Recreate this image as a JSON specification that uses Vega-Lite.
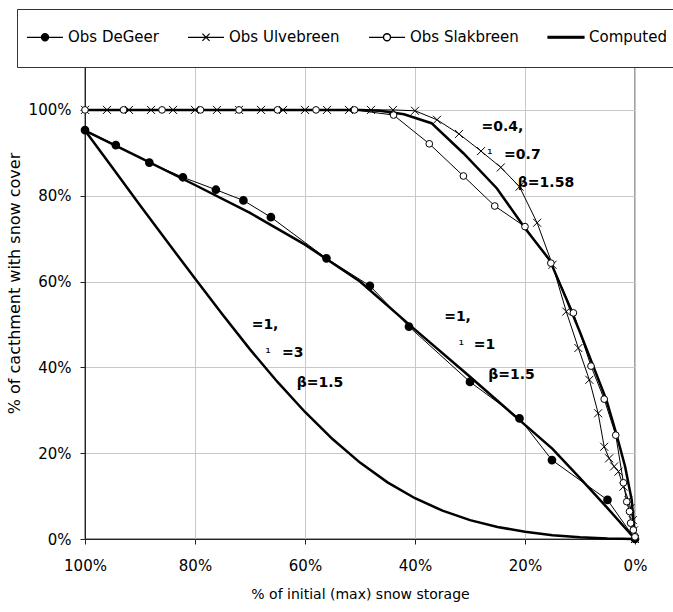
{
  "$schema": "https://vega.github.io/schema/vega-lite/v6.json",
  "width": 550,
  "height": 472,
  "autosize": "none",
  "padding": {"left": 85, "top": 67, "right": 38, "bottom": 73},
  "background": "white",
  "config": {
    "font": "DejaVu Sans",
    "view": {"stroke": "#a0a0a0", "strokeWidth": 2},
    "axis": {
      "domainColor": "#222",
      "tickColor": "#222",
      "gridColor": "#c8c8c8",
      "labelColor": "black",
      "titleColor": "black",
      "labelFontSize": 15,
      "titleFontSize": 15,
      "titleFontWeight": "normal",
      "tickSize": 5,
      "labelFlush": false,
      "labelFont": "DejaVu Sans",
      "titleFont": "DejaVu Sans"
    }
  },
  "datasets": {
    "obs": [
      {"series": "Obs DeGeer", "x": 1.0, "y": 0.953},
      {"series": "Obs DeGeer", "x": 0.944, "y": 0.918},
      {"series": "Obs DeGeer", "x": 0.883, "y": 0.877},
      {"series": "Obs DeGeer", "x": 0.822, "y": 0.843},
      {"series": "Obs DeGeer", "x": 0.762, "y": 0.814},
      {"series": "Obs DeGeer", "x": 0.712, "y": 0.789},
      {"series": "Obs DeGeer", "x": 0.662, "y": 0.75},
      {"series": "Obs DeGeer", "x": 0.561, "y": 0.654},
      {"series": "Obs DeGeer", "x": 0.482, "y": 0.59},
      {"series": "Obs DeGeer", "x": 0.411, "y": 0.495},
      {"series": "Obs DeGeer", "x": 0.3, "y": 0.366},
      {"series": "Obs DeGeer", "x": 0.21, "y": 0.281},
      {"series": "Obs DeGeer", "x": 0.151, "y": 0.184},
      {"series": "Obs DeGeer", "x": 0.05, "y": 0.091},
      {"series": "Obs DeGeer", "x": 0.0, "y": 0.0},
      {"series": "Obs Ulvebreen", "x": 1.0, "y": 1.0},
      {"series": "Obs Ulvebreen", "x": 0.96, "y": 1.0},
      {"series": "Obs Ulvebreen", "x": 0.92, "y": 1.0},
      {"series": "Obs Ulvebreen", "x": 0.88, "y": 1.0},
      {"series": "Obs Ulvebreen", "x": 0.84, "y": 1.0},
      {"series": "Obs Ulvebreen", "x": 0.8, "y": 1.0},
      {"series": "Obs Ulvebreen", "x": 0.76, "y": 1.0},
      {"series": "Obs Ulvebreen", "x": 0.72, "y": 1.0},
      {"series": "Obs Ulvebreen", "x": 0.68, "y": 1.0},
      {"series": "Obs Ulvebreen", "x": 0.64, "y": 1.0},
      {"series": "Obs Ulvebreen", "x": 0.6, "y": 1.0},
      {"series": "Obs Ulvebreen", "x": 0.56, "y": 1.0},
      {"series": "Obs Ulvebreen", "x": 0.52, "y": 1.0},
      {"series": "Obs Ulvebreen", "x": 0.48, "y": 1.0},
      {"series": "Obs Ulvebreen", "x": 0.44, "y": 1.0},
      {"series": "Obs Ulvebreen", "x": 0.4, "y": 0.998},
      {"series": "Obs Ulvebreen", "x": 0.36, "y": 0.977},
      {"series": "Obs Ulvebreen", "x": 0.32, "y": 0.944},
      {"series": "Obs Ulvebreen", "x": 0.28, "y": 0.904},
      {"series": "Obs Ulvebreen", "x": 0.244, "y": 0.866},
      {"series": "Obs Ulvebreen", "x": 0.21, "y": 0.821},
      {"series": "Obs Ulvebreen", "x": 0.178, "y": 0.737},
      {"series": "Obs Ulvebreen", "x": 0.15, "y": 0.639},
      {"series": "Obs Ulvebreen", "x": 0.125, "y": 0.53},
      {"series": "Obs Ulvebreen", "x": 0.103, "y": 0.445},
      {"series": "Obs Ulvebreen", "x": 0.083, "y": 0.371},
      {"series": "Obs Ulvebreen", "x": 0.067, "y": 0.293},
      {"series": "Obs Ulvebreen", "x": 0.056, "y": 0.215},
      {"series": "Obs Ulvebreen", "x": 0.047, "y": 0.188},
      {"series": "Obs Ulvebreen", "x": 0.038, "y": 0.169},
      {"series": "Obs Ulvebreen", "x": 0.03, "y": 0.157},
      {"series": "Obs Ulvebreen", "x": 0.021, "y": 0.122},
      {"series": "Obs Ulvebreen", "x": 0.012, "y": 0.091},
      {"series": "Obs Ulvebreen", "x": 0.008, "y": 0.072},
      {"series": "Obs Ulvebreen", "x": 0.004, "y": 0.044},
      {"series": "Obs Ulvebreen", "x": 0.002, "y": 0.02},
      {"series": "Obs Ulvebreen", "x": 0.0, "y": 0.0},
      {"series": "Obs Slakbreen", "x": 1.0, "y": 1.0},
      {"series": "Obs Slakbreen", "x": 0.93, "y": 1.0},
      {"series": "Obs Slakbreen", "x": 0.86, "y": 1.0},
      {"series": "Obs Slakbreen", "x": 0.79, "y": 1.0},
      {"series": "Obs Slakbreen", "x": 0.72, "y": 1.0},
      {"series": "Obs Slakbreen", "x": 0.65, "y": 1.0},
      {"series": "Obs Slakbreen", "x": 0.58, "y": 1.0},
      {"series": "Obs Slakbreen", "x": 0.51, "y": 1.0},
      {"series": "Obs Slakbreen", "x": 0.439, "y": 0.988},
      {"series": "Obs Slakbreen", "x": 0.374, "y": 0.921},
      {"series": "Obs Slakbreen", "x": 0.312, "y": 0.846},
      {"series": "Obs Slakbreen", "x": 0.255, "y": 0.776},
      {"series": "Obs Slakbreen", "x": 0.2, "y": 0.728},
      {"series": "Obs Slakbreen", "x": 0.153, "y": 0.643},
      {"series": "Obs Slakbreen", "x": 0.112, "y": 0.527},
      {"series": "Obs Slakbreen", "x": 0.08, "y": 0.403},
      {"series": "Obs Slakbreen", "x": 0.056, "y": 0.326},
      {"series": "Obs Slakbreen", "x": 0.035, "y": 0.242},
      {"series": "Obs Slakbreen", "x": 0.021, "y": 0.131},
      {"series": "Obs Slakbreen", "x": 0.015, "y": 0.087},
      {"series": "Obs Slakbreen", "x": 0.01, "y": 0.064},
      {"series": "Obs Slakbreen", "x": 0.008, "y": 0.037},
      {"series": "Obs Slakbreen", "x": 0.003, "y": 0.021},
      {"series": "Obs Slakbreen", "x": 0.0, "y": 0.005}
    ],
    "computed": [
      {"curve": "a1 g1 b1.5", "x": 1.0, "y": 0.952},
      {"curve": "a1 g1 b1.5", "x": 0.9, "y": 0.889},
      {"curve": "a1 g1 b1.5", "x": 0.8, "y": 0.825},
      {"curve": "a1 g1 b1.5", "x": 0.7, "y": 0.76},
      {"curve": "a1 g1 b1.5", "x": 0.6, "y": 0.686},
      {"curve": "a1 g1 b1.5", "x": 0.5, "y": 0.6},
      {"curve": "a1 g1 b1.5", "x": 0.4, "y": 0.488},
      {"curve": "a1 g1 b1.5", "x": 0.3, "y": 0.378},
      {"curve": "a1 g1 b1.5", "x": 0.2, "y": 0.266},
      {"curve": "a1 g1 b1.5", "x": 0.15, "y": 0.21},
      {"curve": "a1 g1 b1.5", "x": 0.1, "y": 0.142},
      {"curve": "a1 g1 b1.5", "x": 0.05, "y": 0.072},
      {"curve": "a1 g1 b1.5", "x": 0.0, "y": 0.0},
      {"curve": "a1 g3 b1.5", "x": 1.0, "y": 0.952},
      {"curve": "a1 g3 b1.5", "x": 0.95, "y": 0.865},
      {"curve": "a1 g3 b1.5", "x": 0.9, "y": 0.778},
      {"curve": "a1 g3 b1.5", "x": 0.85, "y": 0.692},
      {"curve": "a1 g3 b1.5", "x": 0.8, "y": 0.607},
      {"curve": "a1 g3 b1.5", "x": 0.75, "y": 0.523},
      {"curve": "a1 g3 b1.5", "x": 0.7, "y": 0.442},
      {"curve": "a1 g3 b1.5", "x": 0.65, "y": 0.366},
      {"curve": "a1 g3 b1.5", "x": 0.6, "y": 0.296},
      {"curve": "a1 g3 b1.5", "x": 0.55, "y": 0.233},
      {"curve": "a1 g3 b1.5", "x": 0.5, "y": 0.178},
      {"curve": "a1 g3 b1.5", "x": 0.45, "y": 0.132},
      {"curve": "a1 g3 b1.5", "x": 0.4, "y": 0.095},
      {"curve": "a1 g3 b1.5", "x": 0.35, "y": 0.066},
      {"curve": "a1 g3 b1.5", "x": 0.3, "y": 0.044},
      {"curve": "a1 g3 b1.5", "x": 0.25, "y": 0.028},
      {"curve": "a1 g3 b1.5", "x": 0.2, "y": 0.017},
      {"curve": "a1 g3 b1.5", "x": 0.15, "y": 0.009},
      {"curve": "a1 g3 b1.5", "x": 0.1, "y": 0.004},
      {"curve": "a1 g3 b1.5", "x": 0.05, "y": 0.001},
      {"curve": "a1 g3 b1.5", "x": 0.0, "y": 0.0},
      {"curve": "a0.4 g0.7 b1.58", "x": 1.0, "y": 1.0},
      {"curve": "a0.4 g0.7 b1.58", "x": 0.5, "y": 1.0},
      {"curve": "a0.4 g0.7 b1.58", "x": 0.464, "y": 0.998},
      {"curve": "a0.4 g0.7 b1.58", "x": 0.42, "y": 0.99},
      {"curve": "a0.4 g0.7 b1.58", "x": 0.37, "y": 0.969},
      {"curve": "a0.4 g0.7 b1.58", "x": 0.312, "y": 0.899},
      {"curve": "a0.4 g0.7 b1.58", "x": 0.251, "y": 0.817},
      {"curve": "a0.4 g0.7 b1.58", "x": 0.2, "y": 0.724},
      {"curve": "a0.4 g0.7 b1.58", "x": 0.155, "y": 0.65},
      {"curve": "a0.4 g0.7 b1.58", "x": 0.124, "y": 0.557},
      {"curve": "a0.4 g0.7 b1.58", "x": 0.1, "y": 0.482},
      {"curve": "a0.4 g0.7 b1.58", "x": 0.075, "y": 0.4},
      {"curve": "a0.4 g0.7 b1.58", "x": 0.052, "y": 0.324},
      {"curve": "a0.4 g0.7 b1.58", "x": 0.035, "y": 0.25},
      {"curve": "a0.4 g0.7 b1.58", "x": 0.018, "y": 0.169},
      {"curve": "a0.4 g0.7 b1.58", "x": 0.006, "y": 0.091},
      {"curve": "a0.4 g0.7 b1.58", "x": 0.0, "y": 0.0}
    ],
    "labels": [
      {"x": 0.279, "y": 0.96, "text": "=0.4,", "kind": "main"},
      {"x": 0.264, "y": 0.894, "text": "¹", "kind": "sup"},
      {"x": 0.238, "y": 0.895, "text": "=0.7", "kind": "main"},
      {"x": 0.213, "y": 0.829, "text": "β=1.58", "kind": "main"},
      {"x": 0.697, "y": 0.499, "text": "=1,", "kind": "main"},
      {"x": 0.667, "y": 0.432, "text": "¹", "kind": "sup"},
      {"x": 0.642, "y": 0.434, "text": "=3", "kind": "main"},
      {"x": 0.615, "y": 0.364, "text": "β=1.5", "kind": "main"},
      {"x": 0.347, "y": 0.517, "text": "=1,", "kind": "main"},
      {"x": 0.316, "y": 0.449, "text": "¹", "kind": "sup"},
      {"x": 0.293, "y": 0.452, "text": "=1", "kind": "main"},
      {"x": 0.267, "y": 0.383, "text": "β=1.5", "kind": "main"}
    ],
    "legend": [
      {"series": "Obs DeGeer"},
      {"series": "Obs Ulvebreen"},
      {"series": "Obs Slakbreen"},
      {"series": "Computed"}
    ]
  },
  "encoding": {
    "x": {
      "field": "x",
      "type": "quantitative",
      "title": "% of initial (max) snow storage",
      "scale": {"domain": [0, 1], "reverse": true, "nice": false},
      "axis": {"values": [0, 0.2, 0.4, 0.6, 0.8, 1], "format": "%", "labelPadding": 14, "titlePadding": 14, "titleFontSize": 14, "labelFlush": false}
    },
    "y": {
      "field": "y",
      "type": "quantitative",
      "title": "% of cacthment with snow cover",
      "scale": {"domain": [0, 1.1], "nice": false},
      "axis": {"values": [0, 0.2, 0.4, 0.6, 0.8, 1], "format": "%", "labelPadding": 9, "titlePadding": 6, "titleFontSize": 16, "titleY": 216, "labelFlush": false}
    }
  },
  "layer": [
    {
      "data": {"name": "computed"},
      "mark": {"type": "line", "color": "black", "strokeWidth": 2.5},
      "encoding": {"detail": {"field": "curve", "type": "nominal"}}
    },
    {
      "data": {"name": "obs"},
      "mark": {"type": "line", "color": "black", "strokeWidth": 1},
      "encoding": {"detail": {"field": "series", "type": "nominal"}}
    },
    {
      "data": {"name": "obs"},
      "transform": [{"filter": "datum.series === 'Obs DeGeer'"}],
      "mark": {"type": "point", "shape": "circle", "filled": true, "fill": "black", "stroke": "black", "size": 45, "opacity": 1}
    },
    {
      "data": {"name": "obs"},
      "transform": [{"filter": "datum.series === 'Obs Ulvebreen'"}],
      "mark": {"type": "point", "shape": "M-1,-1L1,1M-1,1L1,-1", "filled": false, "stroke": "black", "strokeWidth": 1, "size": 64, "opacity": 1}
    },
    {
      "data": {"name": "obs"},
      "transform": [{"filter": "datum.series === 'Obs Slakbreen'"}],
      "mark": {"type": "point", "shape": "circle", "fill": "white", "stroke": "black", "strokeWidth": 1, "size": 45, "opacity": 1}
    },
    {
      "data": {"name": "labels"},
      "transform": [{"filter": "datum.kind === 'main'"}],
      "mark": {"type": "text", "align": "left", "baseline": "middle", "font": "DejaVu Sans", "fontWeight": "bold", "fontSize": 14, "color": "black"},
      "encoding": {"text": {"field": "text", "type": "nominal"}}
    },
    {
      "data": {"name": "labels"},
      "transform": [{"filter": "datum.kind === 'sup'"}],
      "mark": {"type": "text", "align": "center", "baseline": "middle", "font": "DejaVu Sans", "fontSize": 14, "color": "black"},
      "encoding": {"text": {"field": "text", "type": "nominal"}}
    },
    {
      "data": {"values": [{}]},
      "mark": {"type": "rule", "color": "black", "strokeWidth": 5, "strokeCap": "butt"},
      "encoding": {
        "x": {"datum": 1.12, "type": "quantitative"},
        "x2": {"datum": -0.08},
        "y": {"datum": 1.1, "type": "quantitative"}
      }
    },
    {
      "data": {"name": "legend"},
      "mark": {"type": "point", "opacity": 0, "filled": true, "color": "black", "fill": "black", "stroke": "black", "strokeWidth": 1.2},
      "encoding": {
        "x": {"datum": 1, "type": "quantitative"},
        "y": {"datum": 1, "type": "quantitative"},
        "shape": {
          "field": "series",
          "type": "nominal",
          "scale": {
            "domain": ["Obs DeGeer", "Obs Ulvebreen", "Obs Slakbreen", "Computed"],
            "range": [
              "M0,-1M0,1M-1,0H1M0.2,0A0.2,0.2,0,1,1,-0.2,0A0.2,0.2,0,1,1,0.2,0Z",
              "M0,-1M0,1M-1,0H1M-0.2,-0.2L0.2,0.2M-0.2,0.2L0.2,-0.2",
              "M0,-1M0,1M-1,0H-0.2M0.2,0H1M0.2,0A0.2,0.2,0,1,1,-0.2,0A0.2,0.2,0,1,1,0.2,0ZM0.19,0A0.19,0.19,0,1,0,-0.19,0A0.19,0.19,0,1,0,0.19,0Z",
              "M0,-1M0,1M-1,-0.05H1V0.05H-1Z"
            ]
          },
          "legend": {
            "title": null,
            "orient": "none",
            "legendX": -68,
            "legendY": -58,
            "direction": "horizontal",
            "columns": 4,
            "symbolSize": 1296,
            "symbolStrokeWidth": 1.2,
            "labelFontSize": 15,
            "labelFont": "DejaVu Sans",
            "labelColor": "black",
            "labelOffset": 4,
            "columnPadding": 26,
            "padding": 9,
            "strokeColor": "#333",
            "fillColor": "white",
            "labelLimit": 0,
            "encode": {
              "symbols": {
                "opacity": {"value": 1},
                "fill": {"value": "black"},
                "stroke": {"value": "black"},
                "strokeWidth": {"value": 1.2}
              }
            }
          }
        }
      }
    }
  ]
}
